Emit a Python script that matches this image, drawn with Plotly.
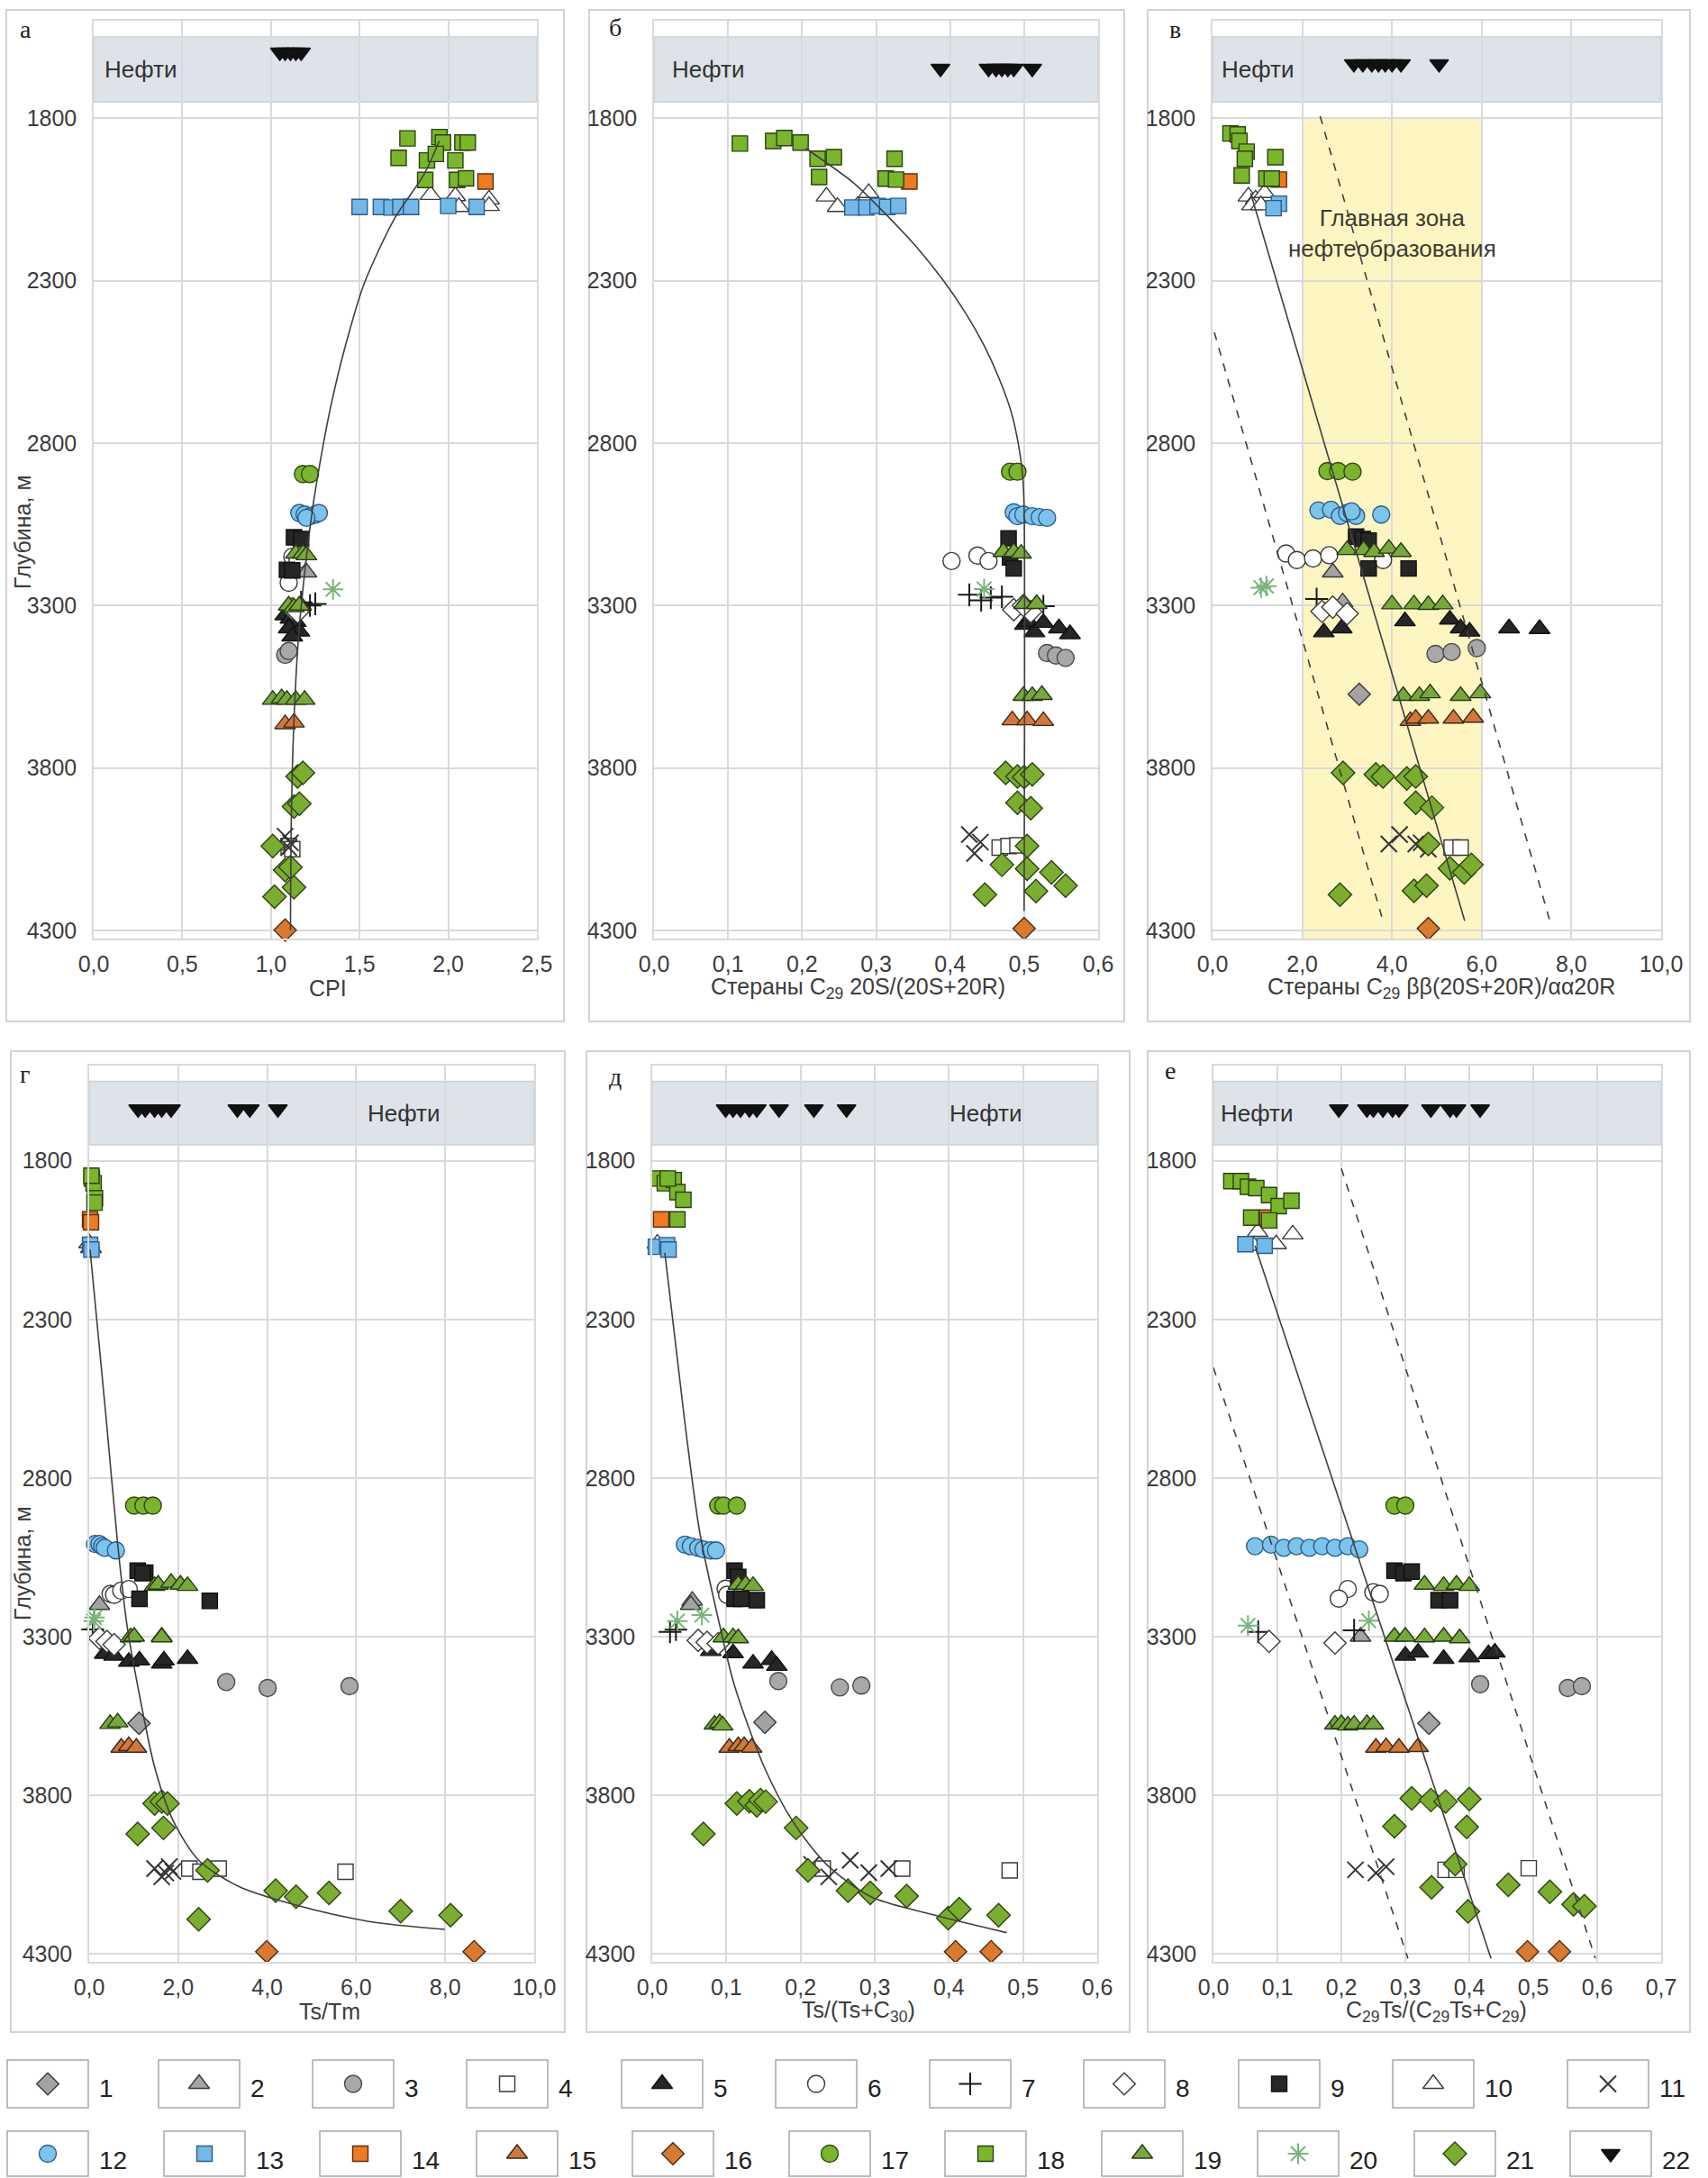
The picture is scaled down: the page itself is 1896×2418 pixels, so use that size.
import plotly.graph_objects as go

W, H = 1896, 2418
DEPTH_TICKS = [1800, 2300, 2800, 3300, 3800, 4300]
DEPTH_RANGE = [4325, 1500]
OIL_BAND = (1550, 1750)
MAIN_ZONE = (2.0, 6.0, 1800)

# ---- sample values per group: {group: ([x ...], [depth, m ...])} ----
CPI = {
    2: ([1.20, 1.17], [3198, 3300]),
    3: ([1.08, 1.10], [3452, 3440]),
    4: ([1.10, 1.12], [4040, 4050]),
    5: ([1.08, 1.11, 1.14, 1.10, 1.16, 1.12], [3330, 3340, 3350, 3370, 3380, 3395]),
    6: ([1.12, 1.15, 1.10], [3150, 3160, 3230]),
    7: ([1.17, 1.22, 1.25], [3290, 3300, 3295]),
    8: ([1.12, 1.15], [3310, 3320]),
    9: ([1.13, 1.17, 1.09, 1.12], [3090, 3095, 3190, 3192]),
    10: ([1.90, 2.04, 2.06, 2.23, 2.23], [2036, 2040, 2073, 2050, 2070]),
    11: ([1.08, 1.11, 1.10], [4010, 4030, 4045]),
    12: ([1.16, 1.19, 1.22, 1.25, 1.27, 1.20], [3015, 3020, 3025, 3020, 3015, 3030]),
    13: ([1.50, 1.62, 1.68, 1.73, 1.79, 2.00, 2.16], [2073, 2073, 2075, 2073, 2073, 2070, 2073]),
    14: ([2.21], [1995]),
    15: ([1.08, 1.13], [3665, 3660]),
    16: ([1.08], [4299]),
    17: ([1.18, 1.22], [2895, 2895]),
    18: ([1.77, 1.95, 1.97, 2.08, 2.11, 1.72, 1.88, 1.93, 2.04, 1.87, 2.05, 2.10],
         [1862, 1858, 1875, 1875, 1875, 1922, 1930, 1910, 1930, 1990, 1990, 1985]),
    19: ([1.14, 1.18, 1.20, 1.10, 1.13, 1.16, 1.01, 1.06, 1.09, 1.14, 1.19],
         [3140, 3140, 3145, 3300, 3305, 3300, 3590, 3585, 3590, 3590, 3590]),
    20: ([1.35], [3250]),
    21: ([1.15, 1.18, 1.13, 1.16, 1.01, 1.08, 1.11, 1.13, 1.02],
         [3826, 3815, 3919, 3910, 4040, 4114, 4105, 4167, 4196]),
    22: ([1.05, 1.08, 1.11, 1.14, 1.17], [1597, 1597, 1597, 1597, 1597]),
}
CPI_TREND = ([1.95, 1.86, 1.70, 1.525, 1.42, 1.34, 1.28, 1.23, 1.19, 1.155, 1.13, 1.115, 1.11],
             [1870, 1976, 2106, 2310, 2500, 2680, 2850, 3020, 3200, 3400, 3650, 3950, 4300])

ST_20S = {
    3: ([0.531, 0.543, 0.556], [3446, 3454, 3461]),
    4: ([0.467, 0.479, 0.491], [4045, 4040, 4038]),
    5: ([0.501, 0.506, 0.514, 0.526, 0.547, 0.562], [3359, 3350, 3382, 3353, 3370, 3388]),
    6: ([0.402, 0.437, 0.452], [3163, 3146, 3163]),
    7: ([0.426, 0.442, 0.455, 0.470, 0.526], [3267, 3284, 3276, 3273, 3302]),
    8: ([0.486, 0.509, 0.499], [3313, 3319, 3300]),
    9: ([0.479, 0.481, 0.486], [3093, 3152, 3186]),
    10: ([0.233, 0.248, 0.290, 0.275], [2041, 2073, 2030, 2070]),
    11: ([0.426, 0.441, 0.433], [4005, 4028, 4063]),
    12: ([0.486, 0.491, 0.499, 0.511, 0.521, 0.531], [3013, 3025, 3020, 3025, 3028, 3030]),
    13: ([0.268, 0.287, 0.302, 0.315, 0.330], [2075, 2075, 2070, 2073, 2070]),
    14: ([0.345], [1995]),
    15: ([0.484, 0.504, 0.526], [3653, 3653, 3655]),
    16: ([0.500], [4294]),
    17: ([0.481, 0.491], [2888, 2888]),
    18: ([0.116, 0.161, 0.176, 0.198, 0.221, 0.243, 0.223, 0.325, 0.313, 0.327],
         [1878, 1870, 1861, 1875, 1925, 1920, 1981, 1925, 1986, 1989]),
    19: ([0.472, 0.486, 0.496, 0.500, 0.517, 0.499, 0.511, 0.524],
         [3135, 3135, 3140, 3295, 3295, 3578, 3578, 3575]),
    20: ([0.446], [3249]),
    21: ([0.475, 0.491, 0.500, 0.511, 0.491, 0.509, 0.504, 0.470, 0.504, 0.537, 0.556, 0.516, 0.447],
         [3815, 3826, 3828, 3820, 3907, 3924, 4040, 4098, 4110, 4121, 4162, 4179, 4190]),
    22: ([0.387, 0.452, 0.462, 0.470, 0.478, 0.486, 0.511], [1647, 1647, 1647, 1647, 1647, 1647, 1647]),
}
ST_20S_TREND = ([0.205, 0.270, 0.315, 0.356, 0.391, 0.421, 0.446, 0.466, 0.482, 0.492, 0.498, 0.500, 0.500],
                [1893, 2000, 2100, 2200, 2300, 2400, 2500, 2600, 2700, 2800, 2900, 3000, 4240])

ST_BB = {
    1: ([3.27], [3573]),
    2: ([2.68, 2.90], [3198, 3290]),
    3: ([4.97, 5.33, 5.89], [3449, 3443, 3431]),
    4: ([5.33, 5.53], [4045, 4045]),
    5: ([2.48, 2.88, 4.29, 5.29, 5.53, 5.73, 6.61, 7.29], [3382, 3370, 3348, 3343, 3370, 3380, 3370, 3372]),
    6: ([1.64, 1.88, 2.24, 2.60, 3.80], [3140, 3160, 3155, 3145, 3160]),
    7: ([2.32], [3280]),
    8: ([2.44, 2.68, 3.00], [3318, 3305, 3325]),
    9: ([3.20, 3.35, 3.48, 3.48, 4.37], [3088, 3095, 3100, 3186, 3186]),
    10: ([0.80, 0.96, 1.16, 0.88, 1.08], [2041, 2050, 2030, 2068, 2068]),
    11: ([3.93, 4.17, 4.53, 4.65, 4.81], [4034, 4005, 4034, 4030, 4050]),
    12: ([2.36, 2.64, 2.84, 3.00, 3.20, 3.10, 3.76], [3007, 3005, 3024, 3015, 3024, 3010, 3020]),
    13: ([1.48, 1.36], [2063, 2077]),
    14: ([1.48], [1989]),
    15: ([4.41, 4.53, 4.81, 5.37, 5.81], [3655, 3648, 3648, 3648, 3645]),
    16: ([4.81], [4294]),
    17: ([2.56, 2.80, 3.12], [2886, 2886, 2888]),
    18: ([0.40, 0.56, 0.60, 0.76, 0.72, 1.40, 0.65, 1.20, 1.32],
         [1847, 1850, 1870, 1903, 1925, 1920, 1976, 1986, 1986]),
    19: ([3.00, 3.37, 3.60, 3.93, 4.20, 4.00, 4.49, 4.81, 5.13, 4.25, 4.61, 4.85, 5.53, 5.97],
         [3129, 3129, 3135, 3125, 3135, 3296, 3296, 3298, 3296, 3578, 3578, 3570, 3578, 3570]),
    20: ([1.08, 1.20], [3245, 3240]),
    21: ([2.91, 3.64, 3.80, 4.33, 4.53, 4.53, 4.89, 4.81, 5.29, 5.61, 5.77, 4.49, 4.77, 2.84],
         [3815, 3820, 3826, 3832, 3826, 3907, 3922, 4034, 4109, 4121, 4098, 4178, 4162, 4190]),
    22: ([3.15, 3.35, 3.55, 3.70, 3.85, 4.00, 4.20, 5.05], [1633, 1633, 1633, 1633, 1633, 1633, 1633, 1633]),
}
ST_BB_TREND = ([0.85, 5.62], [2030, 4270])
ST_BB_LOW = ([0.04, 3.80], [2459, 4271])
ST_BB_HIGH = ([2.40, 7.53], [1794, 4276])

TS_TM = {
    1: ([1.12], [3573]),
    2: ([0.23, 1.63], [3200, 3300]),
    3: ([3.08, 4.01, 5.85], [3443, 3462, 3456]),
    4: ([2.25, 2.50, 2.91, 5.76], [4031, 4041, 4031, 4041]),
    5: ([0.35, 0.56, 0.89, 1.13, 1.63, 1.68, 2.21], [3354, 3360, 3379, 3375, 3385, 3375, 3370]),
    6: ([0.48, 0.56, 0.72, 0.89], [3165, 3168, 3155, 3150]),
    7: ([0.08], [3277]),
    8: ([0.23, 0.40, 0.56], [3305, 3315, 3325]),
    9: ([1.09, 1.26, 1.13, 2.71, 1.20], [3092, 3098, 3181, 3187, 3100]),
    10: ([0.00, 0.04], [2060, 2075]),
    11: ([1.47, 1.63, 1.72, 1.80, 1.88], [4031, 4057, 4045, 4025, 4040]),
    12: ([0.13, 0.23, 0.29, 0.35, 0.60], [3008, 3008, 3015, 3020, 3028]),
    13: ([0.02, 0.05], [2065, 2080]),
    14: ([0.02, 0.04], [1985, 1994]),
    15: ([0.72, 0.89, 1.06], [3650, 3645, 3650]),
    16: ([3.99, 8.65], [4293, 4293]),
    17: ([1.01, 1.22, 1.43], [2887, 2887, 2887]),
    18: ([0.06, 0.10, 0.13, 0.12, 0.05], [1856, 1871, 1918, 1932, 1847]),
    19: ([1.47, 1.55, 1.84, 2.05, 2.21, 0.93, 1.01, 1.63, 0.47, 0.64],
         [3140, 3136, 3130, 3136, 3140, 3302, 3300, 3302, 3575, 3570]),
    20: ([0.10, 0.12], [3251, 3240]),
    21: ([1.47, 1.63, 1.76, 1.09, 1.67, 2.66, 4.19, 4.65, 5.39, 7.00, 8.12, 2.46],
         [3826, 3820, 3826, 3922, 3903, 4037, 4101, 4120, 4108, 4165, 4178, 4191]),
    22: ([1.10, 1.26, 1.47, 1.63, 1.84, 3.33, 3.61, 4.24], [1637, 1637, 1637, 1637, 1637, 1637, 1637, 1637]),
}
TS_TM_TREND = ([0.02, 0.39, 0.64, 0.85, 1.09, 1.47, 1.88, 2.46, 3.37, 4.61, 6.26, 7.99],
               [2080, 2625, 3008, 3264, 3455, 3711, 3878, 4005, 4088, 4145, 4197, 4223])

TS_C30 = {
    1: ([0.152], [3570]),
    2: ([0.054, 0.052], [3187, 3200]),
    3: ([0.170, 0.253, 0.282], [3440, 3460, 3454]),
    4: ([0.230, 0.337, 0.482], [4031, 4031, 4037]),
    5: ([0.079, 0.109, 0.136, 0.161, 0.168], [3345, 3352, 3385, 3373, 3392]),
    6: ([0.099, 0.101], [3149, 3168]),
    7: ([0.024, 0.032], [3285, 3278]),
    8: ([0.062, 0.074, 0.089], [3312, 3318, 3322]),
    9: ([0.111, 0.116, 0.111, 0.141, 0.120], [3092, 3112, 3181, 3185, 3181]),
    10: ([0.007, 0.015], [2061, 2078]),
    11: ([0.215, 0.238, 0.267, 0.292, 0.319], [4018, 4057, 4005, 4044, 4031]),
    12: ([0.044, 0.052, 0.062, 0.069, 0.079, 0.086], [3010, 3015, 3020, 3025, 3028, 3028]),
    13: ([0.005, 0.020, 0.022], [2071, 2066, 2080]),
    14: ([0.012], [1985]),
    15: ([0.104, 0.116, 0.124, 0.134], [3650, 3645, 3645, 3650]),
    16: ([0.409, 0.457], [4293, 4293]),
    17: ([0.089, 0.096, 0.114], [2887, 2887, 2887]),
    18: ([0.0095, 0.017, 0.029, 0.034, 0.042, 0.034, 0.021], [1856, 1871, 1861, 1899, 1923, 1985, 1856]),
    19: ([0.116, 0.126, 0.136, 0.096, 0.109, 0.116, 0.084, 0.091, 0.095],
         [3136, 3136, 3140, 3302, 3302, 3305, 3577, 3572, 3580]),
    20: ([0.034, 0.067], [3251, 3232]),
    21: ([0.114, 0.131, 0.141, 0.146, 0.153, 0.069, 0.194, 0.210, 0.264, 0.294, 0.343, 0.399, 0.414, 0.467],
         [3826, 3819, 3832, 3815, 3820, 3922, 3903, 4037, 4101, 4108, 4118, 4187, 4159, 4178]),
    22: ([0.099, 0.109, 0.119, 0.131, 0.141, 0.171, 0.218, 0.262], [1637, 1637, 1637, 1637, 1637, 1637, 1637, 1637]),
}
TS_C30_TREND = ([0.017, 0.044, 0.064, 0.091, 0.111, 0.151, 0.190, 0.235, 0.295, 0.369, 0.478],
                [2090, 2625, 2970, 3264, 3455, 3711, 3884, 4018, 4120, 4171, 4233])

C29TS = {
    1: ([0.337], [3573]),
    2: ([0.23], [3300]),
    3: ([0.417, 0.554, 0.576], [3450, 3462, 3456]),
    4: ([0.363, 0.380, 0.493], [4035, 4035, 4030]),
    5: ([0.30, 0.32, 0.36, 0.40, 0.43, 0.44], [3360, 3350, 3370, 3365, 3355, 3350]),
    6: ([0.21, 0.25, 0.196, 0.26], [3150, 3160, 3180, 3165]),
    7: ([0.07, 0.22], [3285, 3280]),
    8: ([0.087, 0.19], [3315, 3320]),
    9: ([0.283, 0.297, 0.310, 0.352, 0.370], [3092, 3100, 3095, 3185, 3185]),
    10: ([0.069, 0.098, 0.124, 0.063], [2024, 2063, 2032, 2068]),
    11: ([0.222, 0.254, 0.270], [4035, 4045, 4025]),
    12: ([0.065, 0.090, 0.110, 0.130, 0.150, 0.170, 0.190, 0.210, 0.228],
         [3015, 3010, 3020, 3015, 3020, 3015, 3020, 3015, 3025]),
    13: ([0.050, 0.080], [2063, 2068]),
    14: ([0.084], [1979]),
    15: ([0.254, 0.270, 0.290, 0.320], [3650, 3648, 3650, 3648]),
    16: ([0.491, 0.541], [4293, 4293]),
    17: ([0.283, 0.300], [2887, 2887]),
    18: ([0.028, 0.043, 0.054, 0.067, 0.087, 0.102, 0.122, 0.059, 0.087],
         [1864, 1864, 1882, 1886, 1908, 1943, 1926, 1979, 1988]),
    19: ([0.33, 0.36, 0.38, 0.40, 0.283, 0.30, 0.33, 0.36, 0.385, 0.19, 0.20, 0.21, 0.22, 0.24, 0.25],
         [3136, 3140, 3136, 3140, 3300, 3300, 3302, 3300, 3305, 3577, 3575, 3580, 3577, 3575, 3577]),
    20: ([0.054, 0.243], [3265, 3250]),
    21: ([0.31, 0.34, 0.363, 0.40, 0.283, 0.396, 0.378, 0.461, 0.526, 0.563, 0.58, 0.398, 0.341],
         [3810, 3815, 3820, 3812, 3898, 3900, 4017, 4082, 4104, 4144, 4150, 4166, 4090]),
    22: ([0.196, 0.24, 0.25, 0.265, 0.28, 0.29, 0.34, 0.37, 0.38, 0.417],
         [1637, 1637, 1637, 1637, 1637, 1637, 1637, 1637, 1637, 1637]),
}
C29TS_TREND = ([0.065, 0.434], [2068, 4314])
C29TS_LOW = ([0.0, 0.304], [2452, 4314])
C29TS_HIGH = ([0.20, 0.597], [1824, 4314])

LEGEND_GROUPS = list(range(1, 23))

# ---- marker styles for the 22 sample groups ----
STYLE = {
    1: ('diamond', '#a3a3a3', '#3a3a3a', 19),
    2: ('triangle-up', '#a3a3a3', '#3a3a3a', 20),
    3: ('circle', '#a8a8a8', '#4a4a4a', 19),
    4: ('square', '#ffffff', '#3a3a3a', 17),
    5: ('triangle-up', '#262626', '#111111', 20),
    6: ('circle', '#ffffff', '#3a3a3a', 19),
    7: ('cross-thin-open', '#1a1a1a', '#1a1a1a', 18),
    8: ('diamond', '#ffffff', '#3a3a3a', 19),
    9: ('square', '#262626', '#111111', 17),
    10: ('triangle-up', '#ffffff', '#3a3a3a', 20),
    11: ('x-thin-open', '#333333', '#333333', 18),
    12: ('circle', '#7cc4ec', '#2a5d8a', 19),
    13: ('square', '#74b8e8', '#2a5d8a', 17),
    14: ('square', '#ef7a1f', '#5a3010', 17),
    15: ('triangle-up', '#d2783a', '#3a2a1a', 20),
    16: ('diamond', '#d97a30', '#4a2a10', 19),
    17: ('circle', '#7ab52e', '#2f4a10', 19),
    18: ('square', '#7ab62c', '#2a4210', 17),
    19: ('triangle-up', '#78a83c', '#263a12', 20),
    20: ('asterisk-open', '#79b579', '#79b579', 19),
    21: ('diamond', '#7aad30', '#2c4410', 20),
    22: ('triangle-down', '#111111', '#111111', 18),
}

GRID = '#dadada'
TICK = '#3c3c3c'
FONT = 'Liberation Sans, Arial, sans-serif'
SERIF = 'Liberation Serif, Times New Roman, serif'


def comma(v, nd=1):
    return f'{v:.{nd}f}'.replace('.', ',')


def ticks(lo, hi, step):
    out, v = [], lo
    while v <= hi + 1e-9:
        out.append(round(v, 6))
        v += step
    return out


PANELS = [
    dict(letter='а', data=CPI, lines=[(CPI_TREND, 'solid', 'spline')],
         x=(104, 596), y=(23, 1042), xr=(0, 2.5), step=0.5,
         title='CPI', title_xy=(364, 1097), box=(7, 11, 626, 1134),
         letter_xy=(28, 32), oil_x=114, ytitle=(25, 591)),
    dict(letter='б', data=ST_20S, lines=[(ST_20S_TREND, 'solid', 'spline')],
         x=(726, 1219), y=(23, 1042), xr=(0, 0.6), step=0.1,
         title='Стераны C<sub>29</sub> 20S/(20S+20R)', title_xy=(952, 1097), box=(654, 11, 1248, 1134),
         letter_xy=(683, 30), oil_x=744, ytitle=None),
    dict(letter='в', data=ST_BB,
         lines=[(ST_BB_TREND, 'solid', 'linear'), (ST_BB_LOW, 'dash', 'linear'), (ST_BB_HIGH, 'dash', 'linear')],
         x=(1346, 1844), y=(23, 1042), xr=(0, 10), step=2,
         title='Стераны C<sub>29</sub> ββ(20S+20R)/αα20R', title_xy=(1600, 1097), box=(1274, 11, 1876, 1134),
         letter_xy=(1304, 33), oil_x=1354, ytitle=None, zone=True),
    dict(letter='г', data=TS_TM, lines=[(TS_TM_TREND, 'solid', 'spline')],
         x=(99, 593), y=(1183, 2178), xr=(0, 10), step=2,
         title='Ts/Tm', title_xy=(366, 2233), box=(12, 1167, 627, 2256),
         letter_xy=(27, 1192), oil_x=406, ytitle=(25, 1736)),
    dict(letter='д', data=TS_C30, lines=[(TS_C30_TREND, 'solid', 'spline')],
         x=(724, 1218), y=(1183, 2178), xr=(0, 0.6), step=0.1,
         title='Ts/(Ts+C<sub>30</sub>)', title_xy=(953, 2233), box=(651, 1167, 1254, 2256),
         letter_xy=(683, 1195), oil_x=1052, ytitle=None),
    dict(letter='е', data=C29TS,
         lines=[(C29TS_TREND, 'solid', 'linear'), (C29TS_LOW, 'dash', 'linear'), (C29TS_HIGH, 'dash', 'linear')],
         x=(1347, 1844), y=(1183, 2178), xr=(0, 0.7), step=0.1,
         title='C<sub>29</sub>Ts/(C<sub>29</sub>Ts+C<sub>29</sub>)', title_xy=(1594, 2233), box=(1274, 1167, 1876, 2256),
         letter_xy=(1299, 1189), oil_x=1353, ytitle=None),
]


def px(x, y):
    return x / W, 1 - y / H


def note(text, x, y, size, **kw):
    ax, ay = px(x, y)
    d = dict(text=text, x=ax, y=ay, xref='paper', yref='paper', showarrow=False,
             xanchor='center', yanchor='middle',
             font=dict(size=size, color=kw.pop('color', '#333333'), family=kw.pop('family', FONT)))
    d.update(kw)
    return d


def marker(g):
    sym, fill, edge, size = STYLE[g]
    lw = 2 if sym.endswith('-open') else 1.4
    return dict(symbol=sym, color=fill, size=size, line=dict(color=edge, width=lw))


fig = go.Figure()
layout = dict(template='none', width=W, height=H, autosize=False,
              margin=dict(l=0, r=0, t=0, b=0, pad=0),
              paper_bgcolor='white', plot_bgcolor='rgba(0,0,0,0)', showlegend=False,
              font=dict(family=FONT, color=TICK))
shapes, annotations = [], []

for i, p in enumerate(PANELS, start=1):
    xs = 'x' if i == 1 else f'x{i}'
    ys = 'y' if i == 1 else f'y{i}'
    xa = 'xaxis' if i == 1 else f'xaxis{i}'
    ya = 'yaxis' if i == 1 else f'yaxis{i}'
    tv = ticks(p['xr'][0], p['xr'][1], p['step'])
    x0, x1 = p['x']
    y0, y1 = p['y']
    layout[xa] = dict(domain=[x0 / W, x1 / W], range=list(p['xr']), anchor=ys, automargin=False,
                      tickvals=tv, ticktext=[comma(v) for v in tv],
                      showgrid=True, gridcolor=GRID, gridwidth=1.5, zeroline=False,
                      showline=True, linecolor=GRID, linewidth=1.5, mirror=True,
                      ticks='outside', ticklen=5, tickcolor='rgba(0,0,0,0)',
                      tickfont=dict(size=25, color=TICK, family=FONT))
    layout[ya] = dict(domain=[1 - y1 / H, 1 - y0 / H], range=list(DEPTH_RANGE), anchor=xs, automargin=False,
                      tickvals=DEPTH_TICKS, ticktext=[str(v) for v in DEPTH_TICKS],
                      showgrid=True, gridcolor=GRID, gridwidth=1.5, zeroline=False,
                      showline=True, linecolor=GRID, linewidth=1.5, mirror=True,
                      ticks='outside', ticklen=12, tickcolor='rgba(0,0,0,0)',
                      tickfont=dict(size=25, color=TICK, family=FONT))

    # panel frame
    bx0, by0, bx1, by1 = p['box']
    shapes.append(dict(type='rect', xref='paper', yref='paper',
                       x0=bx0 / W, x1=bx1 / W, y0=1 - by1 / H, y1=1 - by0 / H,
                       line=dict(color='#d2d2d2', width=2), fillcolor='rgba(0,0,0,0)', layer='below'))
    # oil band
    shapes.append(dict(type='rect', xref=f'{xs} domain', yref=ys, x0=0, x1=1,
                       y0=OIL_BAND[0], y1=OIL_BAND[1], fillcolor='#dde3e9',
                       line=dict(color='#c9d1d8', width=1.5), layer='below'))
    if p.get('zone'):
        shapes.append(dict(type='rect', xref=xs, yref=ys, x0=MAIN_ZONE[0], x1=MAIN_ZONE[1],
                           y0=MAIN_ZONE[2], y1=DEPTH_RANGE[0], fillcolor='#fdf6c3',
                           line=dict(width=0), layer='below'))
        annotations.append(dict(text='Главная зона<br>нефтеобразования', x=4.0, y=2154,
                                xref=xs, yref=ys, showarrow=False, xanchor='center', yanchor='middle',
                                font=dict(size=26, color='#3d3d33', family=FONT)))

    scale = (y1 - y0) / (DEPTH_RANGE[0] - DEPTH_RANGE[1])
    band_y = y0 + ((OIL_BAND[0] + OIL_BAND[1]) / 2 - DEPTH_RANGE[1]) * scale
    annotations.append(note('Нефти', p['oil_x'], band_y, 26, xanchor='left'))
    annotations.append(note(p['letter'], p['letter_xy'][0], p['letter_xy'][1], 28,
                            family=SERIF, color='#222222'))
    annotations.append(note(p['title'], p['title_xy'][0], p['title_xy'][1], 25, color=TICK))
    if p['ytitle']:
        annotations.append(note('Глубина, м', p['ytitle'][0], p['ytitle'][1], 25,
                                textangle=-90, color=TICK))

    # sample groups
    for g in range(1, 23):
        if g not in p['data']:
            continue
        gx, gd = p['data'][g]
        fig.add_trace(go.Scatter(x=gx, y=gd, mode='markers', xaxis=xs, yaxis=ys,
                                 marker=marker(g), hoverinfo='skip', cliponaxis=False))
    # trend lines
    for (lx, ld), dash, shape in p['lines']:
        fig.add_trace(go.Scatter(x=lx, y=ld, mode='lines', xaxis=xs, yaxis=ys,
                                 line=dict(color='#3f3f3f', width=1.6, dash=dash, shape=shape,
                                           smoothing=0.8),
                                 hoverinfo='skip'))

# ---- legend strip: boxed symbols with group numbers ----
STRIP_TOP = 2275
layout['xaxis7'] = dict(domain=[0, 1], range=[0, W], visible=False, anchor='y7',
                        fixedrange=True, automargin=False)
layout['yaxis7'] = dict(domain=[0, 1 - STRIP_TOP / H], range=[H, STRIP_TOP], visible=False,
                        anchor='x7', fixedrange=True, automargin=False)
ROW_LEFT = [[8, 176, 347, 518, 690, 861, 1032, 1203, 1375, 1546, 1740],
            [8, 182, 355, 529, 702, 876, 1049, 1223, 1396, 1570, 1743]]
ROW_Y = [(2287, 2340), (2366, 2416)]
NUM_Y = [2318, 2398]
BOX_W = 90
for g in LEGEND_GROUPS:
    row, k = divmod(g - 1, 11)
    left = ROW_LEFT[row][k]
    top, bot = ROW_Y[row]
    shapes.append(dict(type='rect', xref='paper', yref='paper',
                       x0=left / W, x1=(left + BOX_W) / W, y0=1 - bot / H, y1=1 - top / H,
                       line=dict(color='#a8a8a8', width=1.5), fillcolor='white', layer='below'))
    fig.add_trace(go.Scatter(x=[left + BOX_W / 2], y=[(top + bot) / 2], mode='markers',
                             xaxis='x7', yaxis='y7', marker=marker(g), hoverinfo='skip'))
    annotations.append(note(str(g), left + BOX_W + 10, NUM_Y[row], 28,
                            xanchor='left', color='#222222'))

layout['shapes'] = shapes
layout['annotations'] = annotations
fig.update_layout(**layout)
fig.write_html('out.html')
